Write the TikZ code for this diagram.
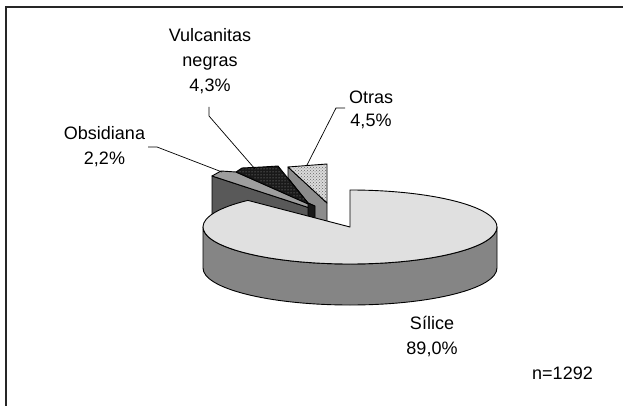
\documentclass[tikz,border=0pt]{standalone}
\usepackage{fontspec}
\setmainfont{Liberation Sans}
\usetikzlibrary{patterns}
\definecolor{silTop}{gray}{0.88}
\definecolor{silSide}{gray}{0.52}
\definecolor{obsSide}{gray}{0.35}
\definecolor{obsTop}{gray}{0.62}
\definecolor{vulc}{gray}{0.1}
\definecolor{otrTop}{gray}{0.86}
\definecolor{otrSide}{gray}{0.55}
\begin{document}
\begin{tikzpicture}[x=1pt,y=-1pt,
  slice/.style={draw=black, line width=0.9pt, line join=round},
  leader/.style={draw=black, line width=0.7pt},
  lbl/.style={font=\fontsize{18}{25}\selectfont, align=center, inner sep=0pt, anchor=north},
  frame/.style={draw=black!85, line width=1.5pt}]
\useasboundingbox (0,0) rectangle (623,406);
\fill[white] (0,0) rectangle (623,406);
\draw[frame] (6,406) -- (6,7) -- (623,7);

% small slices (behind)
\filldraw[slice, fill=obsSide] (212,176) -- (316,210) -- (318,228) -- (212,228) -- cycle;
\filldraw[slice, fill=obsTop] (212,176) -- (221,171) -- (236,172) -- (309,204) -- (316,210) -- cycle;
\filldraw[slice, fill=otrSide] (288,167) -- (327,203) -- (327,224) -- (314,224) -- (314,206) -- (308,203) -- (288,178) -- cycle;
\filldraw[slice, fill=vulc] (236,172) -- (242,168) -- (262,167) -- (278,166) -- (308,203) -- (315,206) -- (315,220) -- (308,220) -- (308,204) -- cycle;
\fill[pattern=dots, pattern color=gray!70] (238,171) -- (243,169) -- (262,168) -- (277,167) -- (306,202) -- cycle;
\filldraw[slice, fill=otrTop] (288,167) -- (327,164) -- (327,203) -- cycle;
\fill[pattern=crosshatch dots, pattern color=gray!80!black] (290,168) -- (326,165) -- (326,201) -- cycle;

% Silice
\coordinate (C) at (350,227);
\filldraw[slice, fill=silSide] (203,227) -- (203,268) arc[start angle=-180, end angle=-360, x radius=147, y radius=37] -- (497,227) arc[start angle=-360, end angle=-180, x radius=147, y radius=37] -- cycle;
\filldraw[slice, fill=silTop] (C) -- ++(-134:147 and 37) arc[start angle=-134, end angle=-450, x radius=147, y radius=37] -- cycle;

% labels
\node[lbl] (lvul) at (210,23.5) {\strut Vulcanitas\\\strut negras\\\strut 4,3\%};
\node[lbl, font=\fontsize{18}{23}\selectfont] (lotr) at (371,86.9) {\strut Otras\\\strut 4,5\%};
\node[lbl] (lobs) at (104.5,121.5) {\strut Obsidiana\\\strut 2,2\%};
\node[lbl] (lsil) at (432,311.5) {\strut Sílice\\\strut 89,0\%};
\node[lbl] (ln) at (562.5,361.5) {\strut n=1292};

% leaders
\coordinate (o1) at (148,147); \coordinate (o2) at (157,147); \coordinate (o3) at (222,172);
\coordinate (v1) at (209,107); \coordinate (v2) at (209,116); \coordinate (v3) at (255,169);
\coordinate (t1) at (345,108); \coordinate (t2) at (336,108); \coordinate (t3) at (307,165);
\draw[leader] (o1) -- (o2) -- (o3);
\draw[leader] (v1) -- (v2) -- (v3);
\draw[leader] (t1) -- (t2) -- (t3);
\end{tikzpicture}
\end{document}
